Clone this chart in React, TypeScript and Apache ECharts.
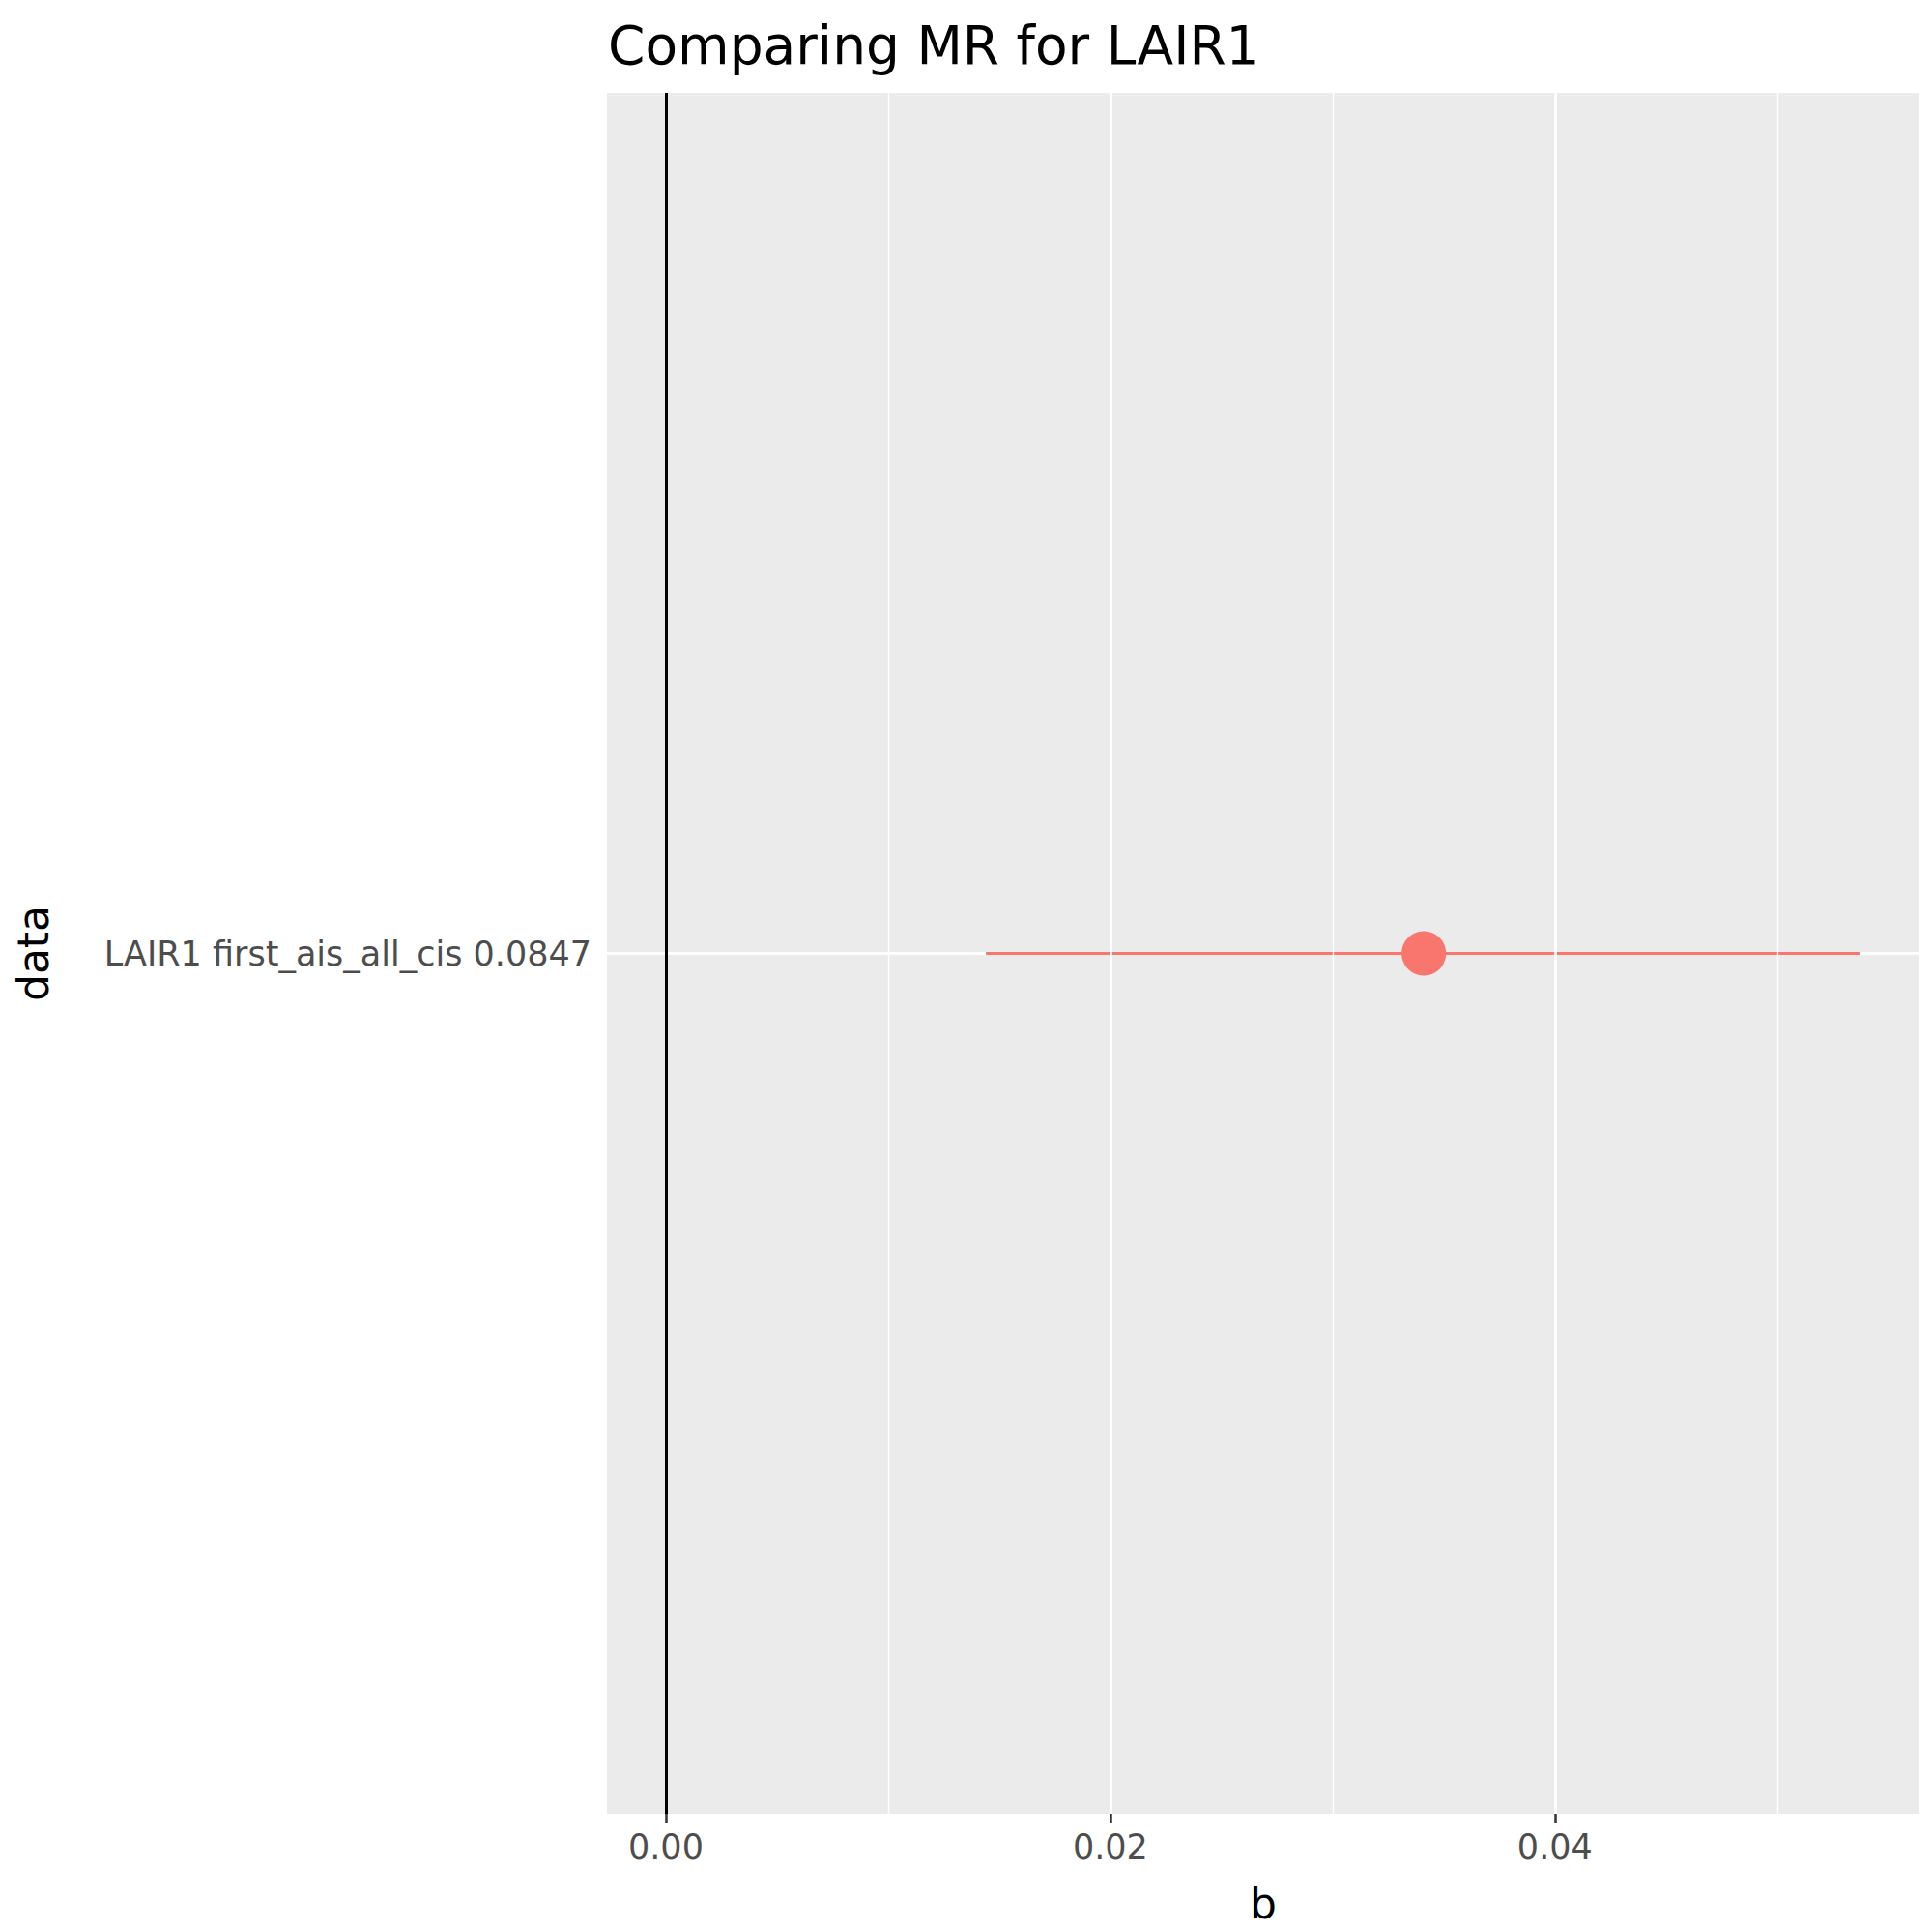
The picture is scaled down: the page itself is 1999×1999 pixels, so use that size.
import * as React from "react";
import * as echarts from "echarts";

const categories = ["LAIR1 first_ais_all_cis 0.0847"];
const estimates = [0.0341];
const lower = [0.0144];
const upper = [0.0537];
const xTicks = [0, 0.02, 0.04];
const minorTicks = [0.01, 0.03, 0.05];
const xMin = -0.00265;
const xMax = 0.0564;

export default function App() {
  const elRef = React.useRef<HTMLDivElement | null>(null);

  React.useEffect(() => {
    if (!elRef.current) return;
    const chart = echarts.init(elRef.current, undefined, { renderer: "svg" });
    const font = "DejaVu Sans";
    const cat = categories[0];
    const hiddenLine = { show: true, lineStyle: { color: "rgba(0,0,0,0)" } };

    const option: any = {
      animation: false,
      textStyle: { fontFamily: font },
      title: {
        text: "Comparing MR for LAIR1",
        left: 624,
        top: 14,
        textStyle: { fontSize: 55, fontWeight: "normal", color: "#000", fontFamily: font },
      },
      grid: {
        left: 628, right: 13, top: 96, bottom: 122,
        show: true, backgroundColor: "#EBEBEB", borderWidth: 0,
      },
      xAxis: {
        type: "value", min: xMin, max: xMax,
        name: "b", nameLocation: "middle", nameGap: 70,
        nameTextStyle: { fontSize: 44, color: "#000" },
        axisLine: hiddenLine,
        axisTick: { show: true, customValues: xTicks, length: 9, lineStyle: { color: "#333", width: 2.5 } },
        axisLabel: {
          customValues: xTicks, fontSize: 35, color: "#4D4D4D", margin: 16,
          formatter: (v: number) => (Math.abs(v) < 1e-9 ? "0.00" : v.toFixed(2)),
        },
        splitLine: { show: false },
      },
      yAxis: {
        type: "category", data: categories,
        name: "data", nameLocation: "middle", nameGap: 572, nameRotate: 90,
        nameTextStyle: { fontSize: 44, color: "#000" },
        axisLine: hiddenLine,
        axisTick: { show: true, alignWithLabel: true, length: 9, lineStyle: { color: "#333", width: 2.5 } },
        axisLabel: { fontSize: 35, color: "#4D4D4D", margin: 16 },
        splitLine: { show: false },
      },
      series: [
        {
          type: "line", silent: true, symbol: "none",
          data: [[xMin, cat], [xMax, cat]],
          lineStyle: { color: "#fff", width: 2.8 },
          markLine: {
            silent: true, symbol: "none", label: { show: false },
            data: [
              ...xTicks.slice(1).map((v) => ({ xAxis: v, lineStyle: { color: "#fff", width: 2.8, type: "solid" } })),
              ...minorTicks.map((v) => ({ xAxis: v, lineStyle: { color: "#fff", width: 1.4, type: "solid" } })),
              { xAxis: 0, lineStyle: { color: "#000", width: 3, type: "solid" } },
            ],
          },
        },
        {
          type: "line", silent: true, symbol: "none",
          data: [[lower[0], cat], [upper[0], cat]],
          lineStyle: { color: "#F8766D", width: 3.2 },
        },
        {
          type: "scatter", symbolSize: 46,
          data: estimates.map((v, i) => [v, categories[i]]),
          itemStyle: { color: "#F8766D", opacity: 1 },
        },
      ],
    };

    chart.setOption(option);
    return () => chart.dispose();
  }, []);

  return <div ref={elRef} style={{ width: 1999, height: 1999, margin: -8 }} />;
}
